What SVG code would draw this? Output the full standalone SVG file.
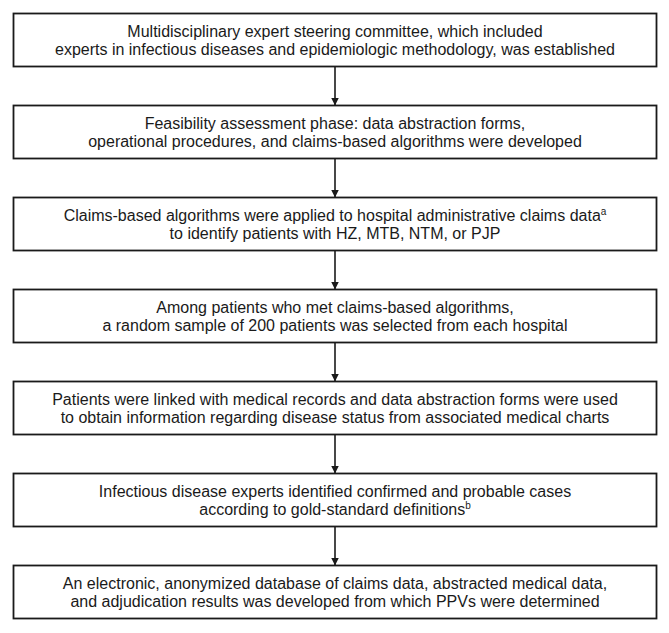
<svg xmlns="http://www.w3.org/2000/svg" width="669" height="633" viewBox="0 0 669 633">
<defs>
<style>
.box{fill:#fff;stroke:#1a1a1a;stroke-width:1.8}
.t{font-family:"Liberation Sans",Arial,sans-serif;font-size:16px;fill:#1a1a1a;text-anchor:middle}
.sup{font-size:10px}
.c{stroke:#1a1a1a;stroke-width:1.6;fill:none}
</style>
<marker id="ah" markerWidth="8" markerHeight="8" refX="8" refY="4" orient="auto" markerUnits="userSpaceOnUse">
<path d="M0,0 L8,4 L0,8 Z" fill="#1a1a1a"/>
</marker>
</defs>
<rect width="669" height="633" fill="#fff"/>
<g id="connectors">
<line class="c" x1="335" y1="66.5" x2="335" y2="105.5" marker-end="url(#ah)"/>
<line class="c" x1="335" y1="158.5" x2="335" y2="197.5" marker-end="url(#ah)"/>
<line class="c" x1="335" y1="250.5" x2="335" y2="289.5" marker-end="url(#ah)"/>
<line class="c" x1="335" y1="342.5" x2="335" y2="381.5" marker-end="url(#ah)"/>
<line class="c" x1="335" y1="434.5" x2="335" y2="473.5" marker-end="url(#ah)"/>
<line class="c" x1="335" y1="526.5" x2="335" y2="565.5" marker-end="url(#ah)"/>
</g>
<g id="n1">
<rect class="box" x="13.5" y="13.5" width="643" height="53"/>
<text class="t" x="335" y="37">Multidisciplinary expert steering committee, which included</text>
<text class="t" x="335" y="54.5">experts in infectious diseases and epidemiologic methodology, was established</text>
</g>
<g id="n2">
<rect class="box" x="13.5" y="105.5" width="643" height="53"/>
<text class="t" x="335" y="129">Feasibility assessment phase: data abstraction forms,</text>
<text class="t" x="335" y="146.5">operational procedures, and claims-based algorithms were developed</text>
</g>
<g id="n3">
<rect class="box" x="13.5" y="197.5" width="643" height="53"/>
<text class="t" x="335" y="221">Claims-based algorithms were applied to hospital administrative claims data<tspan class="sup" dy="-6">a</tspan></text>
<text class="t" x="335" y="238.5">to identify patients with HZ, MTB, NTM, or PJP</text>
</g>
<g id="n4">
<rect class="box" x="13.5" y="289.5" width="643" height="53"/>
<text class="t" x="335" y="313">Among patients who met claims-based algorithms,</text>
<text class="t" x="335" y="330.5">a random sample of 200 patients was selected from each hospital</text>
</g>
<g id="n5">
<rect class="box" x="13.5" y="381.5" width="643" height="53"/>
<text class="t" x="335" y="405">Patients were linked with medical records and data abstraction forms were used</text>
<text class="t" x="335" y="422.5">to obtain information regarding disease status from associated medical charts</text>
</g>
<g id="n6">
<rect class="box" x="13.5" y="473.5" width="643" height="53"/>
<text class="t" x="335" y="497">Infectious disease experts identified confirmed and probable cases</text>
<text class="t" x="335" y="514.5">according to gold-standard definitions<tspan class="sup" dy="-6">b</tspan></text>
</g>
<g id="n7">
<rect class="box" x="13.5" y="565.5" width="643" height="53"/>
<text class="t" x="335" y="589">An electronic, anonymized database of claims data, abstracted medical data,</text>
<text class="t" x="335" y="606.5">and adjudication results was developed from which PPVs were determined</text>
</g>
</svg>
